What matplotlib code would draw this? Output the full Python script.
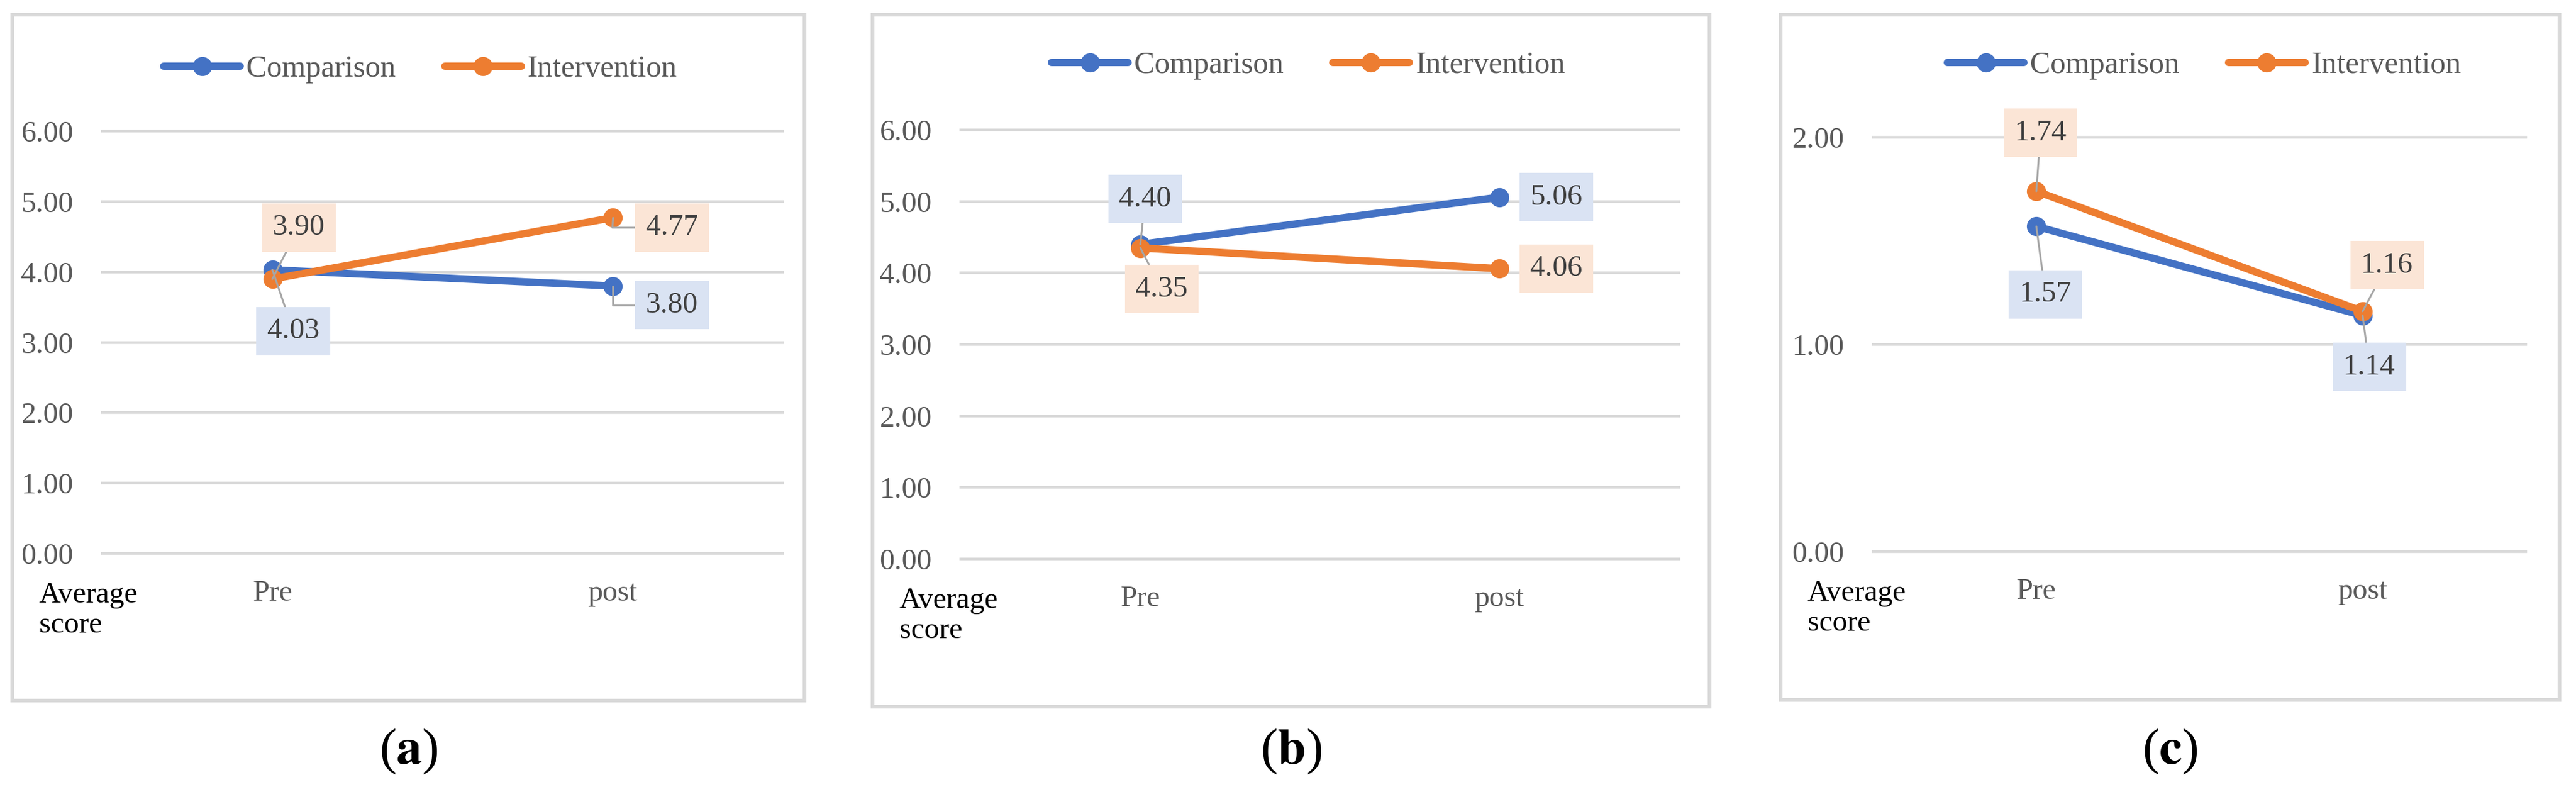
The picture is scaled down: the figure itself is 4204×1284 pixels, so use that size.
import matplotlib
matplotlib.use("Agg")
import matplotlib.pyplot as plt
from matplotlib.patches import Rectangle

plt.rcParams['font.family'] = ['Liberation Serif', 'DejaVu Serif']
plt.rcParams['mathtext.fontset'] = 'stix'

# data
categories = ['Pre', 'post']
series_names = ['Comparison', 'Intervention']
comparison_a = [4.03, 3.80]
intervention_a = [3.90, 4.77]
comparison_b = [4.40, 5.06]
intervention_b = [4.35, 4.06]
comparison_c = [1.57, 1.14]
intervention_c = [1.74, 1.16]
yticks_ab = [0, 1, 2, 3, 4, 5, 6]
yticks_c = [0, 1, 2]
panel_letters = ['a', 'b', 'c']

W, H = 4204, 1284
BLUE, ORANGE = '#4472c4', '#ed7d31'
BOX_BLUE, BOX_ORANGE = '#dae3f3', '#fbe5d6'
GRID = '#d9d9d9'
LEADER = '#a6a6a6'

def fx(x): return x / W
def fy(y): return 1 - y / H

# layout (pixels): frame box, plot area, legend centre,
# label offsets (dx, dy up, leader kind) per series and point
panels = [
    dict(comp=comparison_a, inter=intervention_a, yticks=yticks_ab,
         frame=(20, 24, 1313, 1143), area=(167, 214, 1277, 903), legend=(686, 113),
         offs=[[(34, -100, 'line'), (97, -31, 'elbow')],
               [(43, 84, 'line'), (97, -16, 'elbow')]]),
    dict(comp=comparison_b, inter=intervention_b, yticks=yticks_ab,
         frame=(1424, 24, 2790, 1153), area=(1568, 212, 2740, 912), legend=(2135, 107),
         offs=[[(8, 74, 'line'), (93, 0, None)],
               [(35, -67, 'line'), (93, 0, None)]]),
    dict(comp=comparison_c, inter=intervention_c, yticks=yticks_c,
         frame=(2906, 24, 4177, 1142), area=(3057, 224, 4122, 900), legend=(3597, 107),
         offs=[[(15, -111, 'line'), (11, -84, 'line')],
               [(7, 95, 'line'), (40, 75, 'line')]]),
]

fig = plt.figure(figsize=(W / 100, H / 100), dpi=100)

for p, letter in zip(panels, panel_letters):
    fl, ft, fr, fb = p['frame']
    fig.patches.append(Rectangle((fx(fl), fy(fb)), fx(fr) - fx(fl), fy(ft) - fy(fb),
                                 transform=fig.transFigure, fill=False,
                                 edgecolor=GRID, linewidth=4.3, zorder=0))
    x0, y0, x1, y1 = p['area']
    ax = fig.add_axes([fx(x0), fy(y1), fx(x1) - fx(x0), fy(y0) - fy(y1)])
    ax.set_facecolor('none')
    ymax = p['yticks'][-1]
    ax.set_ylim(0, ymax)
    ax.set_xlim(-0.5, 1.5)
    for s in ax.spines.values():
        s.set_visible(False)
    ax.set_yticks(p['yticks'])
    ax.set_yticklabels(['%.2f' % v for v in p['yticks']])
    ax.set_xticks(range(len(categories)))
    ax.set_xticklabels(categories)
    ax.tick_params(axis='y', length=0, pad=34, labelsize=35, labelcolor='#595959')
    ax.tick_params(axis='x', length=0, pad=31, labelsize=35, labelcolor='#595959')
    ax.yaxis.grid(True, color=GRID, linewidth=3.2)
    for gl in ax.get_ygridlines():
        gl.set_clip_on(False)
    ax.set_axisbelow(True)

    xs = list(range(len(categories)))
    handles = []
    for vals, col, name in [(p['comp'], BLUE, series_names[0]),
                            (p['inter'], ORANGE, series_names[1])]:
        h, = ax.plot(xs, vals, color=col, linewidth=8.6, marker='o', markersize=21.5,
                     solid_capstyle='round', label=name, clip_on=False, zorder=3)
        handles.append(h)

    for vals, box, offs in [(p['comp'], BOX_BLUE, p['offs'][0]),
                            (p['inter'], BOX_ORANGE, p['offs'][1])]:
        for xi, v, (dx, dy, kind) in zip(xs, vals, offs):
            arrow = None
            if kind == 'line':
                arrow = dict(arrowstyle='-', color=LEADER, lw=2.2, shrinkA=0, shrinkB=0)
            elif kind == 'elbow':
                arrow = dict(arrowstyle='-', color=LEADER, lw=2.2, shrinkA=0, shrinkB=0,
                             connectionstyle='angle,angleA=0,angleB=90,rad=0')
            ax.annotate('%.2f' % v, xy=(xi, v), xytext=(dx, dy), textcoords='offset pixels',
                        ha='center', va='center', fontsize=35, color='#404040',
                        bbox=dict(boxstyle='square,pad=0.36', fc=box, ec='none'),
                        arrowprops=arrow, zorder=5, annotation_clip=False)

    lx, ly = p['legend']
    ax.legend(handles=handles, loc='center', bbox_to_anchor=(fx(lx), fy(ly)),
              bbox_transform=fig.transFigure, ncol=2, frameon=False, fontsize=36,
              labelcolor='#595959', handlelength=2.5, handletextpad=0.2,
              columnspacing=1.6, borderpad=0)

    fig.text(fx(fl + 44), fy(y1 + 46), 'Average\nscore', ha='left', va='top',
             fontsize=35, color='black', linespacing=1.15,
             family=['Liberation Serif', 'DejaVu Serif'])
    fig.text(fx((fl + fr) / 2), fy(1226), '($\\mathbf{%s}$)' % letter,
             ha='center', va='center', fontsize=60, color='black')

fig.savefig('out.png', dpi=100)
